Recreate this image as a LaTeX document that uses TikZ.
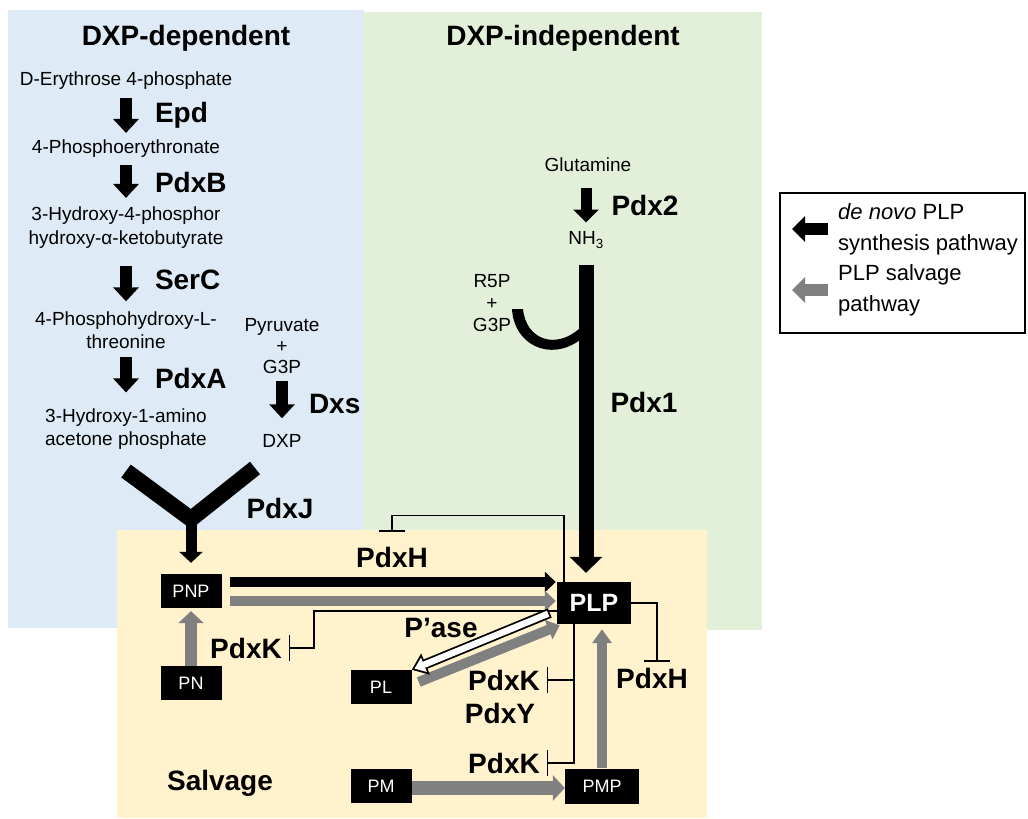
\documentclass[tikz,border=0pt]{standalone}
\usepackage{fontspec}
\setmainfont{Liberation Sans}
\usetikzlibrary{arrows.meta,positioning}
\definecolor{depblue}{RGB}{222,235,247}
\definecolor{indepgreen}{RGB}{226,240,217}
\definecolor{salvyellow}{RGB}{255,242,204}
\definecolor{salvgray}{RGB}{128,128,128}

\begin{document}
\begin{tikzpicture}
    [
        x=1pt, y=-1pt, >={Triangle},
        cmpd/.style={inner sep=0, align=center, font=\fontsize{19}{23}\selectfont},
        enz/.style={inner sep=0, font=\bfseries\fontsize{28}{32}\selectfont},
        met/.style={fill=black, text=white, inner sep=0, minimum width=61pt,
            minimum height=34pt, font=\fontsize{18}{20}\selectfont},
        big/.style={line width=12pt, -{Triangle[width=25pt,length=14pt]}},
        inh/.style={line width=1.2pt, -{Bar[width=26pt]}},
    ]
    \useasboundingbox (0,0) rectangle (1028,819);

    % regions
    \fill[depblue]    (8,10)    rectangle (364,628);
    \fill[indepgreen] (364,12)  rectangle (762,630);
    \fill[salvyellow] (117,530) rectangle (707,818);

    \node (dep)   at (186,38) [enz] {DXP-dependent};
    \node (indep) at (563,38) [enz] {DXP-independent};

    % DXP-dependent
    \node (e4p) at (126,81)  [cmpd] {D-Erythrose 4-phosphate};
    \node (per) at (126,149) [cmpd] {4-Phosphoerythronate};
    \node (hkb) at (126,228) [cmpd, font=\fontsize{19}{24}\selectfont] {3-Hydroxy-4-phosphor\\hydroxy-α-ketobutyrate};
    \node (pht) at (126,330) [cmpd] {4-Phosphohydroxy-L-\\threonine};
    \node (hap) at (126,429) [cmpd] {3-Hydroxy-1-amino\\acetone phosphate};
    \node (pyr) at (282,346) [cmpd, font=\fontsize{19}{21}\selectfont] {Pyruvate\\+\\G3P};
    \node (dxp) at (282,441) [cmpd] {DXP};

    \path
    (e4p) edge [big, shorten <=8pt, shorten >=7pt]   node [enz, right=23pt] (epd)  {Epd}  (per)
    (per) edge [big, shorten <=7pt, shorten >=9pt]   node [enz, right=23pt] (pdxb) {PdxB} (hkb)
    (hkb) edge [big, shorten <=17pt, shorten >=10pt] node [enz, right=23pt] (serc) {SerC} (pht)
    (pht) edge [big, shorten <=8pt, shorten >=16pt]  node [enz, right=23pt] (pdxa) {PdxA} (hap)
    (pyr) edge [big, shorten <=7pt, shorten >=16pt]  node [enz, right=21pt] (dxs)  {Dxs}  (dxp);

    % DXP-independent
    \node (glu)  at (588,165) [cmpd] {Glutamine};
    \node (nh3)  at (586,240) [cmpd] {NH\textsubscript{3}};
    \node (r5p)  at (492,303) [cmpd, font=\fontsize{19}{22}\selectfont] {R5P\\+\\G3P};
    \node (pdx2) at (645,205) [enz] {Pdx2};
    \node (pdx1) at (644,402) [enz] {Pdx1};

    % salvage
    \node (plp) at (594,603) [met, minimum width=74pt, minimum height=42pt,
        font=\bfseries\fontsize{25}{28}\selectfont] {PLP};
    \node (pnp) at (191,591) [met] {PNP};
    \node (pn)  at (191,683) [met] {PN};
    \node (pl)  at (381,687) [met] {PL};
    \node (pm)  at (381,786) [met] {PM};
    \node (pmp) at (602,786) [met, minimum width=74pt, minimum height=35pt] {PMP};

    \node (pdxj)  at (280,508) [enz] {PdxJ};
    \node (pdxhA) at (392,557) [enz] {PdxH};
    \node (pdxkA) at (246,648) [enz] {PdxK};
    \node (pase)  at (441,628) [enz] {P’ase};
    \node (pdxkB) at (504,680) [enz] {PdxK};
    \node (pdxy)  at (500,713) [enz] {PdxY};
    \node (pdxkC) at (504,763) [enz] {PdxK};
    \node (pdxhB) at (652,678) [enz] {PdxH};
    \node (salv)  at (220,783) [enz] {Salvage};

    % Pdx2 / Pdx1
    \draw[big, line width=11pt, -{Triangle[width=25pt,length=13pt]}, shorten <=16pt, shorten >=9pt]
        (nh3 |- glu.south) -- (nh3.north);
    \draw[line width=15pt, -{Triangle[width=32pt,length=16pt]}, shorten <=25pt, shorten >=9pt]
        (nh3.center) -- (nh3.center |- plp.north);
    \fill (512,309) .. controls (514,345) and (550,362) .. (580,340)
        -- (580,328) .. controls (556,350) and (526,340) .. (523,309) -- cycle;

    % PdxJ
    \coordinate (ya) at (126,471);
    \coordinate (yb) at (255,468);
    \coordinate (yv) at (191,519);
    \draw[line width=16pt, line join=miter] (ya) -- (yv) -- (yb);
    \draw[line width=11pt, -{Triangle[width=23pt,length=11pt]}, shorten >=11pt] (yv) -- (pnp);

    % inhibition
    \draw[inh] ([xshift=-30pt]plp.north) -- ++(0,-66) -| ([yshift=15pt]pdxhA.north);
    \draw[inh] ([yshift=-8pt]plp.west) -| ([xshift=32pt]pdxkA.east) -- ([xshift=7pt]pdxkA.east);
    \draw[inh] (plp.east) -| ([shift={(5pt,6pt)}]pdxhB.north);
    \draw[inh] ([xshift=-20pt]plp.south) |- ([xshift=7pt]pdxkC.east);
    \draw[inh] ([xshift=-20pt]plp.south |- pdxkB) -- ([xshift=7pt]pdxkB.east);

    % salvage arrows
    \draw[line width=10pt, -{Triangle[width=20pt,length=11pt]}, shorten <=8pt, shorten >=1pt]
        ([yshift=9pt]pnp.east) -- ([yshift=21pt]plp.west);
    \draw[salvgray, line width=10pt, -{Triangle[width=20pt,length=11pt]}, shorten <=8pt, shorten >=1pt]
        ([yshift=-10pt]pnp.east) -- ([yshift=2pt]plp.west);
    \draw[big, salvgray, -{Triangle[width=25pt,length=12pt]}, shorten >=3pt] (pn) -- (pnp);
    \draw[salvgray, line width=10pt, -{Triangle[width=20pt,length=12pt]}]
        ([shift={(7pt,5pt)}]pl.east) -- ([shift={(3pt,-1pt)}]plp.south west);
    \draw[line width=10pt, -{Triangle[width=22pt,length=15pt]}]
        ([shift={(-7pt,-10pt)}]plp.west) -- (pl.north east);
    \draw[white, line width=6.4pt, -{Triangle[width=14.9pt,length=10.2pt]}, shorten <=1.8pt, shorten >=3.05pt]
        ([shift={(-7pt,-10pt)}]plp.west) -- (pl.north east);
    \draw[salvgray, line width=14pt, -{Triangle[width=25pt,length=12pt]}]
        ([yshift=-2pt]pm.east) -- ([yshift=-2pt]pmp.west);
    \draw[salvgray, line width=10pt, -{Triangle[width=19pt,length=14pt]}, shorten >=5pt]
        (pmp.north) -- (pmp.north |- plp.south);

    % legend
    \node (lgbox) at (902.5,263) [draw, line width=1.2pt, minimum width=245pt, minimum height=140pt, inner sep=0] {};
    \node (lg1) at (838,229) [anchor=west, align=left, inner sep=0, font=\fontsize{22}{31}\selectfont]
        {\textit{de novo} PLP\\synthesis pathway};
    \node (lg2) at (838,290) [anchor=west, align=left, inner sep=0, font=\fontsize{22}{31}\selectfont]
        {PLP salvage\\pathway};
    \draw[big, -{Triangle[width=25pt,length=13pt]}] ([xshift=-10pt]lg1.west) -- ([xshift=-46pt]lg1.west);
    \draw[big, salvgray, -{Triangle[width=25pt,length=13pt]}] ([xshift=-10pt]lg2.west) -- ([xshift=-46pt]lg2.west);

\end{tikzpicture}
\end{document}
